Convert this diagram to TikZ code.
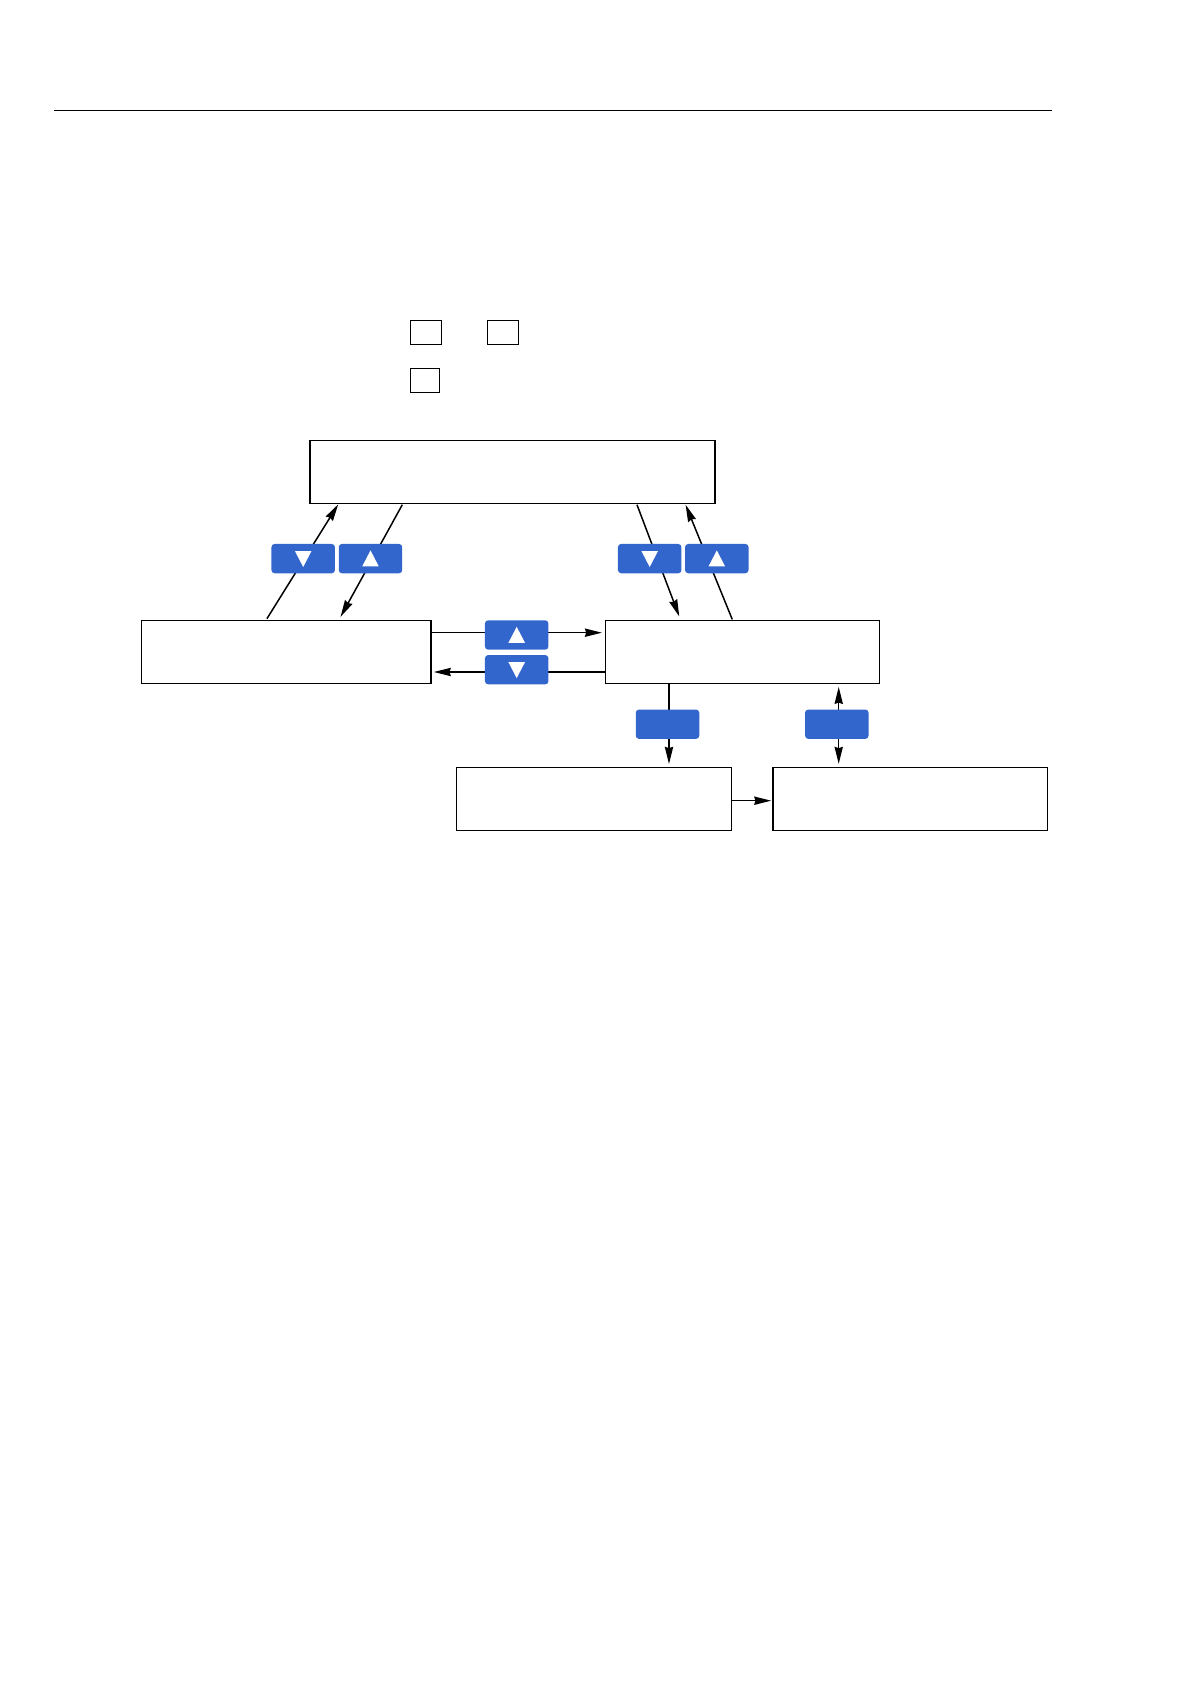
\documentclass[tikz,border=0pt]{standalone}
\usepackage{tikz}
\usetikzlibrary{shapes,arrows.meta,positioning,calc}
\definecolor{keyblue}{RGB}{51,102,204}

\begin{document}
\begin{tikzpicture}[x=0.02cm, y=-0.02cm,
    menubox/.style={rectangle, draw, line width=0.7pt, minimum height=1.26cm, inner sep=0pt},
    smallbox/.style={rectangle, draw, line width=0.7pt, minimum height=0.48cm, inner sep=0pt},
    keybtn/.style={rectangle, fill=keyblue, rounded corners=1.8pt, minimum width=1.27cm, minimum height=0.586cm, inner sep=0pt},
    upmark/.style={fill=white},
    flow/.style={-{Stealth[length=3.4mm, width=1.65mm, inset=0.25mm]}, line width=0.85pt},
    flowboth/.style={{Stealth[length=3.4mm, width=1.65mm, inset=0.25mm]}-{Stealth[length=3.4mm, width=1.65mm, inset=0.25mm]}, line width=0.85pt}
]
    \useasboundingbox (0,0) rectangle (1191,1684);

    % Rule
    \coordinate (ruleL) at (54,110.5);
    \coordinate (ruleR) at (1052,110.5);
    \draw[line width=0.7pt] (ruleL) -- (ruleR);

    % Legend boxes
    \node[smallbox, minimum width=0.628cm] (key1) at (426,332.3) {};
    \node[smallbox, minimum width=0.62cm] (key2) at (502.8,332.3) {};
    \node[smallbox, minimum width=0.58cm] (key3) at (424.8,380.3) {};

    % Menus
    \node[menubox, line width=0.85pt, minimum width=8.1cm] (top) at (512.5,471.8) {};
    \node[menubox, minimum width=5.8cm] (left) at (286.1,651.8) {};
    \node[menubox, minimum width=5.486cm] (mid) at (742.3,651.8) {};
    \node[menubox, minimum width=5.496cm] (low) at (593.9,798.8) {};
    \node[menubox, minimum width=5.486cm] (right) at (910,798.8) {};

    % Arrows
    \draw[flow] ([shift={(126.4,-1)}]left.north west) -- ([shift={(29,0.2)}]top.south west);
    \draw[flow] ([shift={(93,0.7)}]top.south west) -- ([shift={(200,-2.8)}]left.north west);
    \draw[flow] ([shift={(327.7,0.7)}]top.south west) -- ([shift={(74.7,-3.2)}]mid.north west);
    \draw[flow] ([shift={(127.7,-0.3)}]mid.north west) -- ([shift={(376.3,0.7)}]top.south west);
    \draw[flow] (left.east |- 0,632.7) -- ([xshift=-1.5pt]mid.west |- 0,632.7);
    \draw[flow] (mid.west |- 0,672) -- ([xshift=1.2pt]left.east |- 0,672);
    \draw[flow] (mid.south west -| 669,0) -- ([yshift=1.6pt]low.north west -| 669,0);
    \draw[flowboth] ([yshift=-1.7pt]mid.south west -| 838.7,0) -- ([yshift=1.6pt]right.north west -| 838.7,0);
    \draw[flow] (low.east |- 0,800.7) -- ([xshift=-0.6pt]right.west |- 0,800.7);

    % Keys
    \node[keybtn] (k1) at (303.2,558.6) {};
    \node[keybtn] (k2) at (370.5,558.6) {};
    \node[keybtn] (k3) at (516.7,635) {};
    \node[keybtn] (k4) at (516.7,669.7) {};
    \node[keybtn] (k5) at (649.7,558.6) {};
    \node[keybtn] (k6) at (716.8,558.6) {};
    \node[keybtn] (k7) at (667.5,724.2) {};
    \node[keybtn] (k8) at (836.8,724.2) {};

    % Key marks
    \fill[upmark] ([shift={(-8.3,-7.6)}]k1.center) -- ++(16.6,0) -- ++(-8.3,16) -- cycle;
    \fill[upmark] ([shift={(-8.3,7.8)}]k2.center) -- ++(16.6,0) -- ++(-8.3,-16) -- cycle;
    \fill[upmark] ([shift={(-8.3,7.8)}]k3.center) -- ++(16.6,0) -- ++(-8.3,-16) -- cycle;
    \fill[upmark] ([shift={(-8.3,-7.6)}]k4.center) -- ++(16.6,0) -- ++(-8.3,16) -- cycle;
    \fill[upmark] ([shift={(-8.3,-7.6)}]k5.center) -- ++(16.6,0) -- ++(-8.3,16) -- cycle;
    \fill[upmark] ([shift={(-8.3,7.8)}]k6.center) -- ++(16.6,0) -- ++(-8.3,-16) -- cycle;
\end{tikzpicture}
\end{document}
